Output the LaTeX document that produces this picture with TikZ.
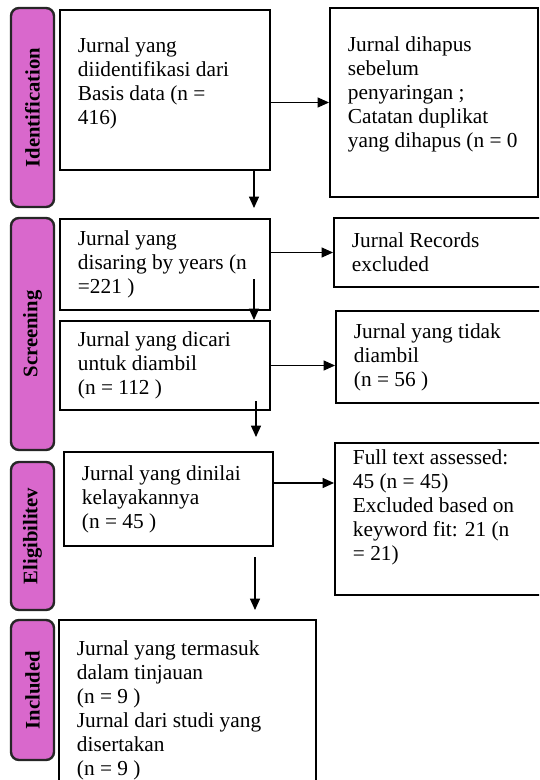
\documentclass[tikz,border=0pt]{standalone}
\usepackage{fontspec}
\setmainfont{Liberation Serif}
\usetikzlibrary{arrows.meta}
\definecolor{phasepink}{RGB}{217,104,204}

\begin{document}
\begin{tikzpicture}[
    x=0.75pt, y=-0.75pt,
    box/.style={rectangle, draw, line width=1.5pt},
    phase/.style={rectangle, rounded corners=6pt, draw=black!85, line width=1.8pt, fill=phasepink,
        minimum height=32.25pt, rotate=90, font=\fontsize{15.5}{18}\selectfont\bfseries},
    txt/.style={anchor=west, align=left, inner sep=0pt, font=\fontsize{16}{18}\selectfont},
    arr/.style={-{Triangle[length=8.5pt, width=7.5pt]}, line width=0.8pt}
]
    \useasboundingbox (0,0) rectangle (539,780);
    \clip (0,0) rectangle (539,780);

    % fase
    \node[phase, minimum width=149.25pt] (idb) at (32.5,107.5) {Identification};
    \node[phase, minimum width=174pt] (scb) at (32.5,334) {Screening};
    \node[phase, minimum width=111pt] (elb) at (32.5,536) {Eligibilitev};
    \node[phase, minimum width=105pt] (inb) at (32.5,690) {Included};

    % kotak
    \node[box, minimum width=157.5pt, minimum height=120pt] (b1) at (165,90) {};
    \node[box, minimum width=156pt, minimum height=141.75pt] (b2) at (434,102.5) {};
    \node[box, minimum width=157.5pt, minimum height=68.25pt] (b3) at (165,264.5) {};
    \node[box, minimum width=169.5pt, minimum height=51.75pt] (b4) at (447,252.5) {};
    \node[box, minimum width=157.5pt, minimum height=66.75pt] (b5) at (165,365.5) {};
    \node[box, minimum width=168pt, minimum height=69pt] (b6) at (448,357) {};
    \node[box, minimum width=156.75pt, minimum height=70.5pt] (b7) at (168.5,499) {};
    \node[box, minimum width=168.75pt, minimum height=114pt] (b8) at (447.5,519) {};
    \node[box, minimum width=192.75pt, minimum height=135pt] (b9) at (187.5,710) {};

    \node[txt] (t1) at ([xshift=14pt, yshift=5pt]b1.west) {Jurnal yang\\diidentifikasi dari\\Basis data (n =\\416)};
    \node[txt] (t2) at ([xshift=14pt, yshift=6pt]b2.west) {Jurnal dihapus\\sebelum\\penyaringan ;\\Catatan duplikat\\yang dihapus (n = 0};
    \node[txt] (t3) at ([xshift=14pt]b3.west) {Jurnal yang\\disaring by years (n\\=221 )};
    \node[txt] (t4) at ([xshift=14pt]b4.west) {Jurnal Records\\excluded};
    \node[txt] (t5) at ([xshift=14pt]b5.west) {Jurnal yang dicari\\untuk diambil\\(n = 112 )};
    \node[txt] (t6) at ([xshift=14pt]b6.west) {Jurnal yang tidak\\diambil\\(n = 56 )};
    \node[txt] (t7) at ([xshift=14pt]b7.west) {Jurnal yang dinilai\\kelayakannya\\(n = 45 )};
    \node[txt] (t8) at ([xshift=14pt, yshift=9pt]b8.west) {Full text assessed:\\45 (n = 45)\\Excluded based on\\keyword fit: 21 (n\\= 21)};
    \node[txt] (t9) at ([xshift=14pt]b9.west) {Jurnal yang termasuk\\dalam tinjauan\\(n = 9 )\\Jurnal dari studi yang\\disertakan\\(n = 9 )};

    % panah
    \draw[arr] (b1.east |- b2.west) -- (b2.west);
    \draw[arr] (b3.east |- b4.west) -- (b4.west);
    \draw[arr] (b5.east) -- (b5.east -| b6.west);
    \draw[arr] ([yshift=12pt]b7.east) -- ([yshift=12pt]b7.east -| b8.west);

    \draw[arr] ([xshift=-12.75pt]b1.south east) -- ++(0,37);
    \draw[arr] ([shift={(-17,-32)}]b3.south east) -- ([xshift=-12.75pt]b5.north east);
    \draw[arr] ([shift={(-15,-10)}]b5.south east) -- ++(0,36);
    \draw[arr] ([shift={(-19,10)}]b7.south east) -- ++(0,53);
\end{tikzpicture}
\end{document}
